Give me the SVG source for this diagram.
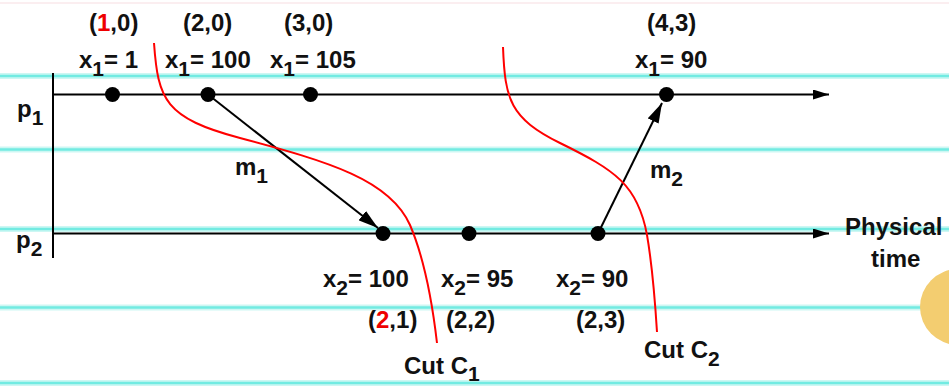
<svg xmlns="http://www.w3.org/2000/svg" width="949" height="387" viewBox="0 0 949 387">
<style>
.t{font-family:"Liberation Sans",Arial,sans-serif;font-weight:bold;font-size:24px;fill:#111}
.s{font-size:21px}
.r{fill:#e00}
.bg{stroke:#cdf7f3;stroke-width:6;fill:none}
.bgc{stroke:#72ebe2;stroke-width:2.5;fill:none}
.ln{stroke:#000;stroke-width:2;fill:none}
.cut{stroke:#f00;stroke-width:2;fill:none}
.dot{fill:#000}
</style>
<defs>
<marker id="ah" viewBox="0 0 16 10" refX="16" refY="5" markerWidth="16" markerHeight="10" markerUnits="userSpaceOnUse" orient="auto">
<path d="M0,0 L16,5 L0,10 z" fill="#000"/>
</marker>
<marker id="am" viewBox="0 0 20 12" refX="20" refY="6" markerWidth="20" markerHeight="12" markerUnits="userSpaceOnUse" orient="auto">
<path d="M0,0 L20,6 L0,12 z" fill="#000"/>
</marker>
</defs>
<rect width="949" height="387" fill="#fff"/>
<g id="background">
<line x1="0" y1="3" x2="949" y2="3" stroke="#fbeef0" stroke-width="2"/>
<line class="bg" x1="0" y1="76" x2="949" y2="76"/><line class="bgc" x1="0" y1="76" x2="949" y2="76"/>
<line class="bg" x1="0" y1="149.5" x2="949" y2="149.5"/><line class="bgc" x1="0" y1="149.5" x2="949" y2="149.5"/>
<line class="bg" x1="0" y1="229" x2="949" y2="229"/><line class="bgc" x1="0" y1="229" x2="949" y2="229"/>
<line class="bg" x1="0" y1="307.5" x2="949" y2="307.5"/><line class="bgc" x1="0" y1="307.5" x2="949" y2="307.5"/>
<line class="bg" x1="0" y1="383" x2="949" y2="383"/><line class="bgc" x1="0" y1="383" x2="949" y2="383"/>
<circle cx="958" cy="307" r="38" fill="#f3cd70"/>
</g>
<g id="axes">
<line class="ln" x1="53" y1="73" x2="53" y2="258"/>
</g>
<g id="connectors">
<line class="ln" x1="53" y1="94.5" x2="829" y2="94.5" marker-end="url(#ah)"/>
<line class="ln" x1="53" y1="233.5" x2="829" y2="233.5" marker-end="url(#ah)"/>
<line class="ln" x1="208" y1="94.5" x2="378" y2="228" marker-end="url(#am)"/>
<line class="ln" x1="598" y1="233.5" x2="662" y2="103" marker-end="url(#am)"/>
</g>
<g id="cuts">
<path class="cut" d="M154,43 C158,100 165,118 240,138 C330,162 390,180 410,225 C425,260 432,300 437,343"/>
<path class="cut" d="M503,47 C505,100 510,118 560,143 C615,170 638,185 647,235 C653,270 655,300 657,332"/>
</g>
<g id="p1"><text class="t" x="17" y="117">p<tspan class="s" dy="8">1</tspan></text></g>
<g id="p2"><text class="t" x="16" y="248">p<tspan class="s" dy="8">2</tspan></text></g>
<g id="e11">
<circle class="dot" cx="112.5" cy="94.5" r="7.5"/>
<text class="t" x="89" y="31">(<tspan class="r">1</tspan>,0)</text>
<text class="t" x="79" y="68">x<tspan class="s" dy="8">1</tspan><tspan dy="-8">= 1</tspan></text>
</g>
<g id="e12">
<circle class="dot" cx="208" cy="94.5" r="7.5"/>
<text class="t" x="183" y="31">(2,0)</text>
<text class="t" x="165" y="68">x<tspan class="s" dy="8">1</tspan><tspan dy="-8">= 100</tspan></text>
</g>
<g id="e13">
<circle class="dot" cx="310.5" cy="94.5" r="7.5"/>
<text class="t" x="284" y="31">(3,0)</text>
<text class="t" x="270" y="68">x<tspan class="s" dy="8">1</tspan><tspan dy="-8">= 105</tspan></text>
</g>
<g id="e14">
<circle class="dot" cx="666.5" cy="94.5" r="7.5"/>
<text class="t" x="647" y="31">(4,3)</text>
<text class="t" x="635" y="68">x<tspan class="s" dy="8">1</tspan><tspan dy="-8">= 90</tspan></text>
</g>
<g id="e21">
<circle class="dot" cx="383" cy="233.5" r="7.5"/>
<text class="t" x="323" y="287">x<tspan class="s" dy="8">2</tspan><tspan dy="-8">= 100</tspan></text>
<text class="t" x="368" y="328">(<tspan class="r">2</tspan>,1)</text>
</g>
<g id="e22">
<circle class="dot" cx="469" cy="233.5" r="7.5"/>
<text class="t" x="441" y="287">x<tspan class="s" dy="8">2</tspan><tspan dy="-8">= 95</tspan></text>
<text class="t" x="446" y="328">(2,2)</text>
</g>
<g id="e23">
<circle class="dot" cx="598" cy="233.5" r="7.5"/>
<text class="t" x="556" y="287">x<tspan class="s" dy="8">2</tspan><tspan dy="-8">= 90</tspan></text>
<text class="t" x="576" y="328">(2,3)</text>
</g>
<g id="m1"><text class="t" x="235" y="175">m<tspan class="s" dy="8">1</tspan></text></g>
<g id="m2"><text class="t" x="650" y="178">m<tspan class="s" dy="8">2</tspan></text></g>
<g id="cutC1"><text class="t" x="404" y="374">Cut C<tspan class="s" dy="7">1</tspan></text></g>
<g id="cutC2"><text class="t" x="644" y="358">Cut C<tspan class="s" dy="8">2</tspan></text></g>
<g id="physical"><text class="t" x="845" y="235">Physical</text><text class="t" x="871" y="267">time</text></g>
</svg>
